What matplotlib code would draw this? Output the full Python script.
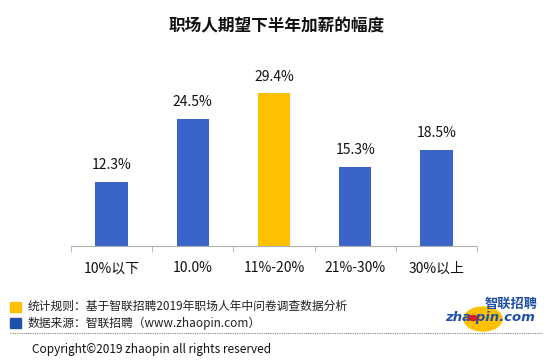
import matplotlib
matplotlib.use("Agg")
import matplotlib.pyplot as plt
from matplotlib.patches import Rectangle, Ellipse, Circle

plt.rcParams["font.family"] = ["Noto Sans CJK SC", "DejaVu Sans"]

categories = ["10%以下", "10.0%", "11%-20%", "21%-30%", "30%以上"]
values = [12.3, 24.5, 29.4, 15.3, 18.5]
highlight = "11%-20%"

BLUE = "#3a64c9"
YELLOW = "#ffc000"
LOGO_BLUE = "#1f4fa8"

W, H = 553, 361
fig = plt.figure(figsize=[W / 100, H / 100], dpi=100)
fig.patch.set_facecolor("white")


def px(x, y):
    # pixel coords (from top-left) -> figure fraction
    return x / W, 1 - y / H


ax = fig.add_axes([71 / W, (H - 246) / H, 406 / W, 166 / H])
colors = [YELLOW if c == highlight else BLUE for c in categories]
xs = list(range(len(categories)))
ax.bar(xs, values, width=0.4, color=colors)
for x, v in zip(xs, values):
    ax.annotate(f"{v}%", (x, v), xytext=(0, 7), textcoords="offset points",
                ha="center", va="bottom", fontsize=10, color="#111111")
ax.set_xlim(-0.5, len(categories) - 0.5)
ax.set_ylim(0, 32)
for s in ["top", "right", "left"]:
    ax.spines[s].set_visible(False)
ax.spines["bottom"].set_color("#b0b0b0")
ax.set_yticks([])
ax.set_xticks(xs)
ax.set_xticklabels(categories, fontsize=10, color="#111111")
ax.tick_params(axis="x", length=0, pad=11)
ax.set_xticks([i - 0.5 for i in range(len(categories) + 1)], minor=True)
ax.tick_params(axis="x", which="minor", length=4, color="#b0b0b0")

fig.text(*px(277, 26), "职场人期望下半年加薪的幅度", ha="center", va="center",
         fontsize=12, fontweight="bold", color="#111111")

# footer legend
fig.patches.append(Rectangle(px(10, 312), 11 / W, 10 / H, transform=fig.transFigure,
                             color=YELLOW))
fig.patches.append(Rectangle(px(10, 328), 11 / W, 10 / H, transform=fig.transFigure,
                             color=LOGO_BLUE))
fig.text(*px(28, 306), "统计规则：基于智联招聘2019年职场人年中问卷调查数据分析",
         ha="left", va="center", fontsize=8.5, color="#222222")
fig.text(*px(28, 323), "数据来源：智联招聘（www.zhaopin.com）",
         ha="left", va="center", fontsize=8.5, color="#222222")

# logo
fig.patches.append(Ellipse(px(483, 319), 38 / W, 24 / H, transform=fig.transFigure,
                           color=YELLOW, zorder=1))
fig.text(*px(511, 304), "智联招聘", ha="center", va="center", fontsize=9.5,
         fontweight="bold", style="italic", color=LOGO_BLUE, zorder=3)
fig.text(*px(490, 317), "zha pin.com", ha="center", va="center", fontsize=9.5,
         fontweight="bold", style="italic", color=LOGO_BLUE,
         family="DejaVu Sans", zorder=3)
fig.patches.append(Circle(px(473, 318), 4 / W, transform=fig.transFigure,
                          color="#d02020", zorder=4))

fig.add_artist(plt.Line2D([10 / W, 542 / W], [1 - 333 / H, 1 - 333 / H],
                          transform=fig.transFigure, color="#888888",
                          linestyle=(0, (1, 1)), linewidth=0.8))
fig.text(*px(32, 349), "Copyright©2019 zhaopin all rights reserved", ha="left",
         va="center", fontsize=8.5, color="#111111")

fig.savefig("out.png", dpi=100)
plt.close(fig)
